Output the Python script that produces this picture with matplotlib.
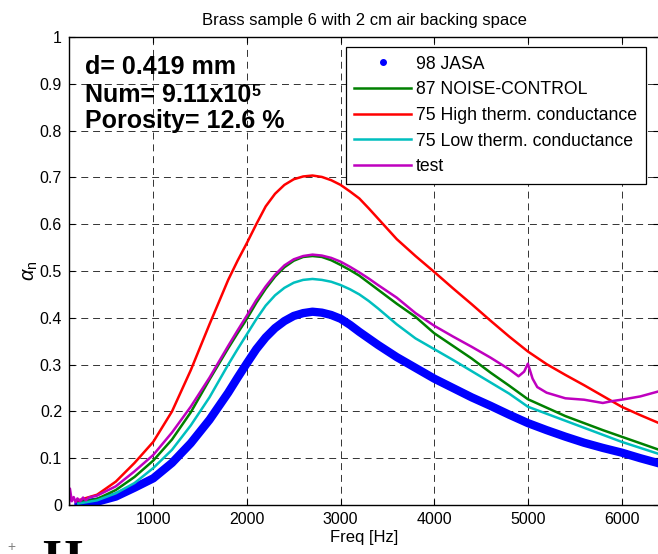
import matplotlib
matplotlib.use("Agg")
import matplotlib.pyplot as plt
from matplotlib.lines import Line2D

plt.rcParams['font.family'] = ['Liberation Sans', 'DejaVu Sans']
plt.rcParams['mathtext.fontset'] = 'custom'
plt.rcParams['mathtext.rm'] = 'Liberation Sans'
plt.rcParams['mathtext.it'] = 'Liberation Sans:italic'
plt.rcParams['lines.scale_dashes'] = False

# frequency grid (Hz) for the smooth model curves
freq = [200, 400, 600, 800, 1000, 1200, 1400, 1600, 1800,
        1900, 2000, 2100, 2200, 2300, 2400, 2500, 2600, 2700, 2800, 2900, 3000,
        3100, 3200, 3300, 3400,
        3600, 3800, 4000, 4200, 4400, 4600, 4800, 5000, 5200, 5400, 5600, 5800,
        6000, 6200, 6400]

jasa = [0.002, 0.007, 0.018, 0.037, 0.057, 0.090, 0.132, 0.182, 0.240,
        0.272, 0.303, 0.333, 0.358, 0.378, 0.393, 0.404, 0.410, 0.413, 0.411, 0.406,
        0.398, 0.385, 0.370, 0.356, 0.342,
        0.316, 0.293, 0.270, 0.250, 0.230, 0.212, 0.193, 0.175, 0.160, 0.146, 0.133,
        0.122, 0.112, 0.100, 0.089]

noise_control = [0.005, 0.013, 0.032, 0.060, 0.095, 0.140, 0.198, 0.268, 0.335,
                 0.367, 0.398, 0.432, 0.462, 0.488, 0.508, 0.522, 0.530, 0.532, 0.530,
                 0.523, 0.513, 0.502, 0.490, 0.475, 0.460,
                 0.430, 0.402, 0.367, 0.340, 0.313, 0.283, 0.255, 0.226, 0.208, 0.190,
                 0.175, 0.160, 0.146, 0.132, 0.118]

high_cond = [0.010, 0.022, 0.050, 0.090, 0.135, 0.200, 0.288, 0.386, 0.481,
             0.522, 0.560, 0.600, 0.638, 0.665, 0.684, 0.696, 0.702, 0.704, 0.701,
             0.694, 0.684, 0.670, 0.655, 0.634, 0.612,
             0.568, 0.532, 0.498, 0.463, 0.429, 0.394, 0.360, 0.328, 0.301, 0.278,
             0.256, 0.233, 0.210, 0.192, 0.175]

low_cond = [0.003, 0.010, 0.025, 0.047, 0.079, 0.118, 0.170, 0.230, 0.300,
            0.333, 0.365, 0.397, 0.426, 0.448, 0.464, 0.475, 0.481, 0.483, 0.481,
            0.477, 0.470, 0.461, 0.450, 0.436, 0.420,
            0.386, 0.356, 0.333, 0.310, 0.286, 0.262, 0.238, 0.210, 0.195, 0.180,
            0.165, 0.150, 0.135, 0.122, 0.109]

# measured "test" curve (noisy at low freq, resonance near 5 kHz)
test_freq = [100, 110, 130, 150, 170, 190, 220, 250, 280, 310, 400, 600, 800, 1000,
             1200, 1400, 1600, 1800, 1900, 2000, 2100, 2200, 2300, 2400, 2500, 2600,
             2700, 2800, 2900, 3000, 3100, 3200, 3300, 3400, 3600, 3800, 4000, 4200,
             4400, 4600, 4800, 4900, 4960, 5000, 5050, 5100, 5200, 5400, 5600, 5800,
             5900, 6000, 6200, 6400]
test = [0.000, 0.035, 0.008, 0.017, 0.006, 0.014, 0.008, 0.016, 0.010, 0.016, 0.020,
        0.040, 0.072, 0.107, 0.155, 0.210, 0.272, 0.340, 0.373, 0.405, 0.438, 0.467,
        0.492, 0.512, 0.525, 0.532, 0.535, 0.533, 0.528, 0.520, 0.509, 0.497, 0.484,
        0.470, 0.443, 0.410, 0.383, 0.360, 0.338, 0.315, 0.290, 0.275, 0.285, 0.302,
        0.270, 0.252, 0.240, 0.228, 0.225, 0.218, 0.222, 0.225, 0.232, 0.243]

fig = plt.figure(figsize=(6.58, 5.54), dpi=100)
ax = fig.add_axes([69 / 658, 49 / 554, 590 / 658, 468 / 554])

ax.plot(freq, jasa, color='#0000ff', lw=6, solid_capstyle='round')
ax.plot(freq, noise_control, color='#008000', lw=1.8)
ax.plot(freq, high_cond, color='#ff0000', lw=1.8)
ax.plot(freq, low_cond, color='#00bfbf', lw=1.8)
ax.plot(test_freq, test, color='#bf00bf', lw=1.8)

ax.set_xlim(100, 6400)
ax.set_ylim(0, 1)
ax.set_xticks([1000, 2000, 3000, 4000, 5000, 6000])
ax.set_yticks([0, 0.1, 0.2, 0.3, 0.4, 0.5, 0.6, 0.7, 0.8, 0.9, 1])
ax.set_yticklabels(['0', '0.1', '0.2', '0.3', '0.4', '0.5', '0.6', '0.7', '0.8', '0.9', '1'])
ax.tick_params(direction='in', top=True, right=True, length=4, width=0.8,
               labelsize=11.5, pad=5)
ax.grid(True, color='0.2', lw=0.7, linestyle=(0, (5, 3.5)))
for s in ax.spines.values():
    s.set_linewidth(1.0)

ax.set_title('Brass sample 6 with 2 cm air backing space', fontsize=12, pad=9)
ax.set_xlabel('Freq [Hz]', fontsize=12, labelpad=2)
ax.set_ylabel(r'$\alpha_{\mathrm{n}}$', fontsize=14.5, labelpad=0)

ax.text(271, 0.920, 'd= 0.419 mm', fontsize=18, fontweight='bold')
num = ax.text(271, 0.862, 'Num= 9.11x10', fontsize=18, fontweight='bold')
ax.annotate('5', xy=(1, 0.93), xycoords=num, xytext=(0.5, 0), textcoords='offset points',
            fontsize=11.5, fontweight='bold', ha='left', va='top')
ax.text(271, 0.806, 'Porosity= 12.6 %', fontsize=18, fontweight='bold')

handles = [
    Line2D([], [], color='#0000ff', marker='.', linestyle='none', markersize=8),
    Line2D([], [], color='#008000', lw=1.8),
    Line2D([], [], color='#ff0000', lw=1.8),
    Line2D([], [], color='#00bfbf', lw=1.8),
    Line2D([], [], color='#bf00bf', lw=1.8),
]
labels = ['98 JASA', '87 NOISE-CONTROL', '75 High therm. conductance',
          '75 Low therm. conductance', 'test']
leg = ax.legend(handles, labels, loc='upper right', bbox_to_anchor=(0.978, 0.979),
                borderaxespad=0, fontsize=12.7, handlelength=3.2, handletextpad=0.3,
                labelspacing=0.49, fancybox=False, framealpha=1, edgecolor='black',
                borderpad=0.5)
leg.get_frame().set_linewidth(0.9)

# scraps of the next page visible at the bottom edge
fig.text(0.018, 0.013, '+', color='0.5', fontsize=10, ha='center', va='center')
fig.text(0.064, -0.036, 'H', fontsize=37, family='Liberation Serif',
         fontweight='bold', va='baseline')

fig.savefig('out.png', dpi=100)
